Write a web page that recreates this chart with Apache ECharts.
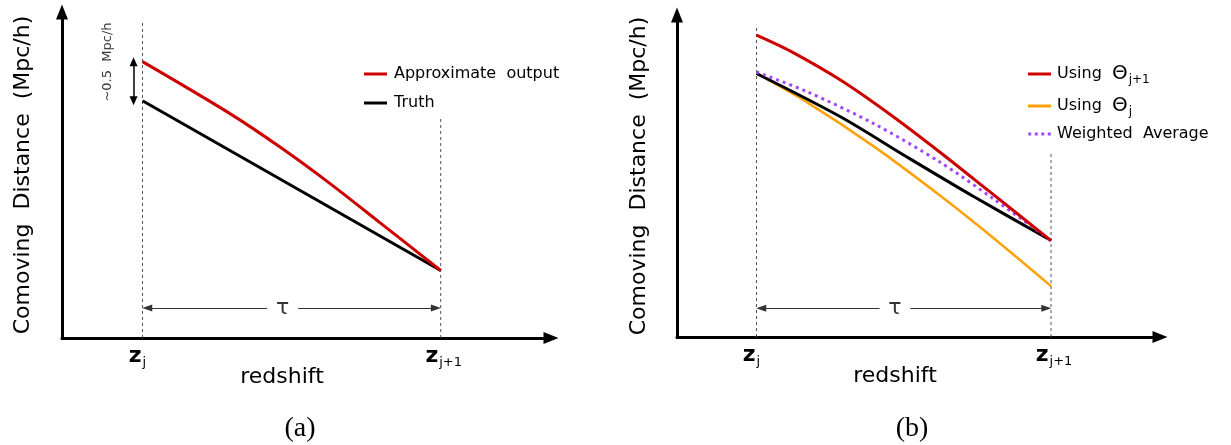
<!DOCTYPE html>
<html><head><meta charset="utf-8">
<script src="https://cdn.jsdelivr.net/npm/echarts@6/dist/echarts.min.js"></script>
<style>html,body{margin:0;padding:0;background:#fff}#c{width:1231px;height:445px}</style>
</head><body><div id="c"></div>
<script>
// x: redshift in units of the step, z_j = 0, z_{j+1} = 1 ; y: comoving distance (Mpc/h, arbitrary offset)
const tickValues = [0, 1];
const tickSubs = ['j', 'j+1'];
// panel (a)
const namesA = ['Approximate output', 'Truth'];
const aApproxX = [0, 0.292, 0.460, 0.628, 0.795, 1];
const aApproxY = [3.645, 2.963, 2.522, 2.04, 1.526, 0.89];
const aTruthX = [0, 1];
const aTruthY = [3.13, 0.89];
const aGuideTop = [4.17, 2.90];
const aOffset = [3.13, 3.645];
// panel (b)
const namesB = ['Using Θj+1', 'Using Θj', 'Weighted Average'];
const bTheta1X = [0, 0.115, 0.285, 0.454, 0.624, 0.793, 1];
const bTheta1Y = [3.976, 3.765, 3.384, 2.93, 2.43, 1.91, 1.27];
const bThetaX = [0, 0.172, 0.398, 0.624, 0.793, 1];
const bThetaY = [3.47, 3.09, 2.51, 1.86, 1.34, 0.67];
const bTruthX = [0, 0.285, 0.511, 0.737, 1];
const bTruthY = [3.47, 2.90, 2.37, 1.85, 1.27];
const bAvgX = [0, 0.172, 0.398, 0.624, 0.804, 1];
const bAvgY = [3.49, 3.23, 2.81, 2.30, 1.82, 1.27];
const bGuideTop = [4.11, 2.44];

const zip = (xs, ys) => xs.map((x, i) => [x, ys[i]]);
const FONT = 'DejaVu Sans';
const RED = '#cc0000', ORANGE = '#ffa10a', PURPLE = '#a347ff';
const ICON_SOLID = 'path://M0,0H23V3H0Z';
const ICON_DOT = 'path://M0,0h3v3h-3zM6.5,0h3v3h-3zM13,0h3v3h-3zM19.5,0h3v3h-3z';

function xAxis(gi, padRight) {
  return {
    type: 'value', gridIndex: gi, min: -0.27, max: 1.37,
    axisLine: { show: true, onZero: false, lineStyle: { color: '#000', width: 3 }, symbol: ['none', 'triangle'], symbolSize: [12, 15] },
    axisTick: { show: false }, splitLine: { show: false },
    axisLabel: {
      customValues: tickValues, margin: 6,
      formatter: v => {
        const i = tickValues.findIndex(t => Math.abs(t - v) < 1e-9);
        if (i < 0) return '';
        return i === 0 ? '{z|z}{s|' + tickSubs[i] + '}{g|}' : '{g2|}{z|z}{s|' + tickSubs[i] + '}';
      },
      rich: {
        z: { fontFamily: FONT, fontWeight: 'bold', fontSize: 22, color: '#000', lineHeight: 24 },
        s: { fontFamily: FONT, fontSize: 13, color: '#000', lineHeight: 24, padding: [14, 0, 0, 1] },
        g: { width: 10 }, g2: { width: 6 }
      }
    },
    name: 'redshift', nameLocation: 'middle', nameGap: 28, nameMoveOverlap: false,
    nameTextStyle: { fontFamily: FONT, fontSize: 22, color: '#000', padding: [0, padRight, 0, 0] }
  };
}
function yAxis(gi, max, gap) {
  return {
    type: 'value', gridIndex: gi, min: 0, max: max,
    axisLine: { show: true, onZero: false, lineStyle: { color: '#000', width: 3 }, symbol: ['none', 'triangle'], symbolSize: [12, 15] },
    axisTick: { show: false }, splitLine: { show: false }, axisLabel: { show: false },
    name: 'Comoving  Distance  (Mpc/h)', nameLocation: 'middle', nameGap: gap, nameMoveOverlap: false,
    nameTextStyle: { fontFamily: FONT, fontSize: 22, color: '#000' }
  };
}
function guide(gi, x, top) {
  return { type: 'line', xAxisIndex: gi, yAxisIndex: gi, data: [[x, 0], [x, top]], symbol: 'none', silent: true,
    lineStyle: { color: '#555', width: 1, type: [3, 3] }, z: 1 };
}
function tau(gi, y) {
  return {
    type: 'scatter', xAxisIndex: gi, yAxisIndex: gi, data: [[0.47, y]], symbolSize: 0, silent: true,
    label: { show: true, position: 'inside', formatter: 'τ', fontFamily: FONT, fontSize: 22, color: '#000' },
    markLine: {
      silent: true, animation: false, symbolSize: [7, 10],
      lineStyle: { color: '#333', width: 1, type: 'solid' }, label: { show: false },
      data: [
        [{ coord: [0.016, y], symbol: 'triangle' }, { coord: [0.418, y], symbol: 'none' }],
        [{ coord: [0.522, y], symbol: 'none' }, { coord: [0.984, y], symbol: 'triangle' }]
      ]
    }
  };
}
function legendText(n) {
  if (n === namesB[0]) return '{t|Using  }{th|Θ}{s|j+1}';
  if (n === namesB[1]) return '{t|Using  }{th|Θ}{s|j}';
  return '{t|' + n.replace(' ', '  ') + '}';
}
const legendRich = {
  t: { fontFamily: FONT, fontSize: 16, color: '#000', lineHeight: 20 },
  th: { fontFamily: FONT, fontSize: 20, color: '#000', lineHeight: 20 },
  s: { fontFamily: FONT, fontSize: 12, color: '#000', lineHeight: 20, padding: [12, 0, 0, 1] }
};

const option = {
  animation: false,
  grid: [
    { left: 62, top: 12, width: 489, height: 326 },
    { left: 677, top: 15, width: 483, height: 322 }
  ],
  xAxis: [xAxis(0, 49), xAxis(1, 47)],
  yAxis: [yAxis(0, 4.3, 28), yAxis(1, 4.24, 27)],
  legend: [
    { left: 364, top: 66, padding: 0, orient: 'vertical', itemWidth: 23, itemHeight: 3, itemGap: 13,
      data: namesA.map(n => ({ name: n, icon: ICON_SOLID })),
      selectedMode: false, formatter: legendText, textStyle: { padding: [0, 0, 0, 2], rich: legendRich } },
    { left: 1028, top: 62, padding: 0, orient: 'vertical', itemWidth: 23, itemHeight: 3, itemGap: 8,
      data: namesB.map((n, i) => ({ name: n, icon: i === 2 ? ICON_DOT : ICON_SOLID })),
      selectedMode: false, formatter: legendText, textStyle: { padding: [0, 0, 0, 1], rich: legendRich } }
  ],
  graphic: [
    { type: 'text', x: 300, y: 429, style: { text: '(a)', font: '28px "Liberation Serif"', fill: '#000', align: 'center', verticalAlign: 'middle' } },
    { type: 'text', x: 912, y: 429, style: { text: '(b)', font: '28px "Liberation Serif"', fill: '#000', align: 'center', verticalAlign: 'middle' } }
  ],
  series: [
    guide(0, 0, aGuideTop[0]), guide(0, 1, aGuideTop[1]),
    guide(1, 0, bGuideTop[0]), guide(1, 1, bGuideTop[1]),
    tau(0, 0.395), tau(1, 0.38),
    { name: namesA[1], type: 'line', xAxisIndex: 0, yAxisIndex: 0, data: zip(aTruthX, aTruthY), symbol: 'none',
      lineStyle: { color: '#000', width: 3 }, itemStyle: { color: '#000' }, z: 3 },
    { name: namesA[0], type: 'line', xAxisIndex: 0, yAxisIndex: 0, data: zip(aApproxX, aApproxY), symbol: 'none', smooth: 0.3,
      lineStyle: { color: RED, width: 3 }, itemStyle: { color: RED }, z: 4 },
    { type: 'scatter', xAxisIndex: 0, yAxisIndex: 0, data: [[-0.117, 3.64]], symbolSize: 0, silent: true,
      label: { show: true, position: 'inside', rotate: 90, formatter: '~0.5  Mpc/h', fontFamily: FONT, fontSize: 13, color: '#000' },
      markLine: { silent: true, animation: false, symbolSize: [8, 9], lineStyle: { color: '#000', width: 1.5, type: 'solid' }, label: { show: false },
        data: [[{ coord: [-0.03, aOffset[0]], symbol: 'triangle' }, { coord: [-0.03, aOffset[1]], symbol: 'triangle' }]] } },
    { name: namesB[1], type: 'line', xAxisIndex: 1, yAxisIndex: 1, data: zip(bThetaX, bThetaY), symbol: 'none', smooth: 0.3,
      lineStyle: { color: ORANGE, width: 2.5 }, itemStyle: { color: ORANGE }, z: 2 },
    { name: 'truthB', type: 'line', xAxisIndex: 1, yAxisIndex: 1, data: zip(bTruthX, bTruthY), symbol: 'none', smooth: 0.3,
      lineStyle: { color: '#000', width: 3 }, z: 3 },
    { name: namesB[2], type: 'line', xAxisIndex: 1, yAxisIndex: 1, data: zip(bAvgX, bAvgY), symbol: 'none', smooth: 0.3,
      lineStyle: { color: PURPLE, width: 3, type: [3, 4] }, itemStyle: { color: PURPLE }, z: 4 },
    { name: namesB[0], type: 'line', xAxisIndex: 1, yAxisIndex: 1, data: zip(bTheta1X, bTheta1Y), symbol: 'none', smooth: 0.3,
      lineStyle: { color: RED, width: 3 }, itemStyle: { color: RED }, z: 5 }
  ]
};
const chart = echarts.init(document.getElementById('c'), null, { renderer: 'canvas' });
chart.setOption(option);
</script></body></html>
